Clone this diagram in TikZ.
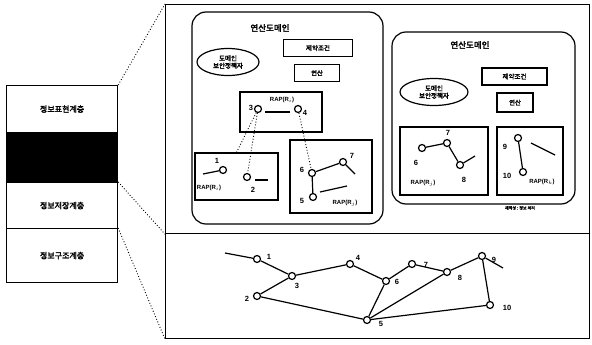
\documentclass[tikz,border=0pt]{standalone}
\usepackage{fontspec}
\usetikzlibrary{shapes.geometric}
\setmainfont{Liberation Sans}
\newfontfamily\cjk[FakeBold=2.5]{Noto Sans CJK KR}
\begin{document}
\begin{tikzpicture}[x=1pt,y=-1pt,
  frm/.style={draw,line width=1.2pt,inner sep=0pt},
  dom/.style={draw,line width=1.2pt,rounded corners=14pt,inner sep=0pt},
  kbox/.style={draw,line width=1.2pt,inner sep=0pt,font=\cjk\fontsize{6.5}{7}\selectfont},
  kr/.style={font=\cjk\fontsize{8}{8}\selectfont,inner sep=0pt},
  ttl/.style={font=\cjk\fontsize{8.5}{9}\selectfont,inner sep=0pt},
  ell/.style={draw,ellipse,line width=1.2pt,inner sep=0pt,align=center,font=\cjk\fontsize{6.5}{7.5}\selectfont},
  pt/.style={circle,draw,line width=1.2pt,fill=white,inner sep=0pt,minimum size=7pt},
  num/.style={font=\bfseries\fontsize{7.5}{7.5}\selectfont,inner sep=0pt},
  rap/.style={font=\bfseries\fontsize{6}{6}\selectfont,inner sep=0pt},
  ln/.style={line width=1.2pt},
  dots/.style={dotted,line width=0.9pt}]
\useasboundingbox (0,0) rectangle (592,345);
\fill[white] (0,0) rectangle (592,345);
% left stack
\node[frm,minimum width=111pt,minimum height=47pt,anchor=north west,kr] (L1) at (6,85) {정보표현계층};
\node[frm,fill=black,minimum width=111pt,minimum height=50pt,anchor=north west] (L2) at (6,132) {};
\node[frm,minimum width=111pt,minimum height=46pt,anchor=north west,kr] (L3) at (6,182) {정보저장계층};
\node[frm,minimum width=111pt,minimum height=54pt,anchor=north west,kr] (L4) at (6,228) {정보구조계층};
% frames
\node[frm,minimum width=424pt,minimum height=229pt,anchor=north west] (F) at (165,4) {};
\node[frm,minimum width=424pt,minimum height=105pt,anchor=north west] (G) at (165,233) {};
\draw[dots] (L1.north east) -- (F.north west);
\draw[dots] (L3.north east) -- (F.south west);
\draw[dots] (L4.north east) -- (G.south west);
% domain 1
\node[dom,minimum width=191pt,minimum height=212pt] (D1) at (287.5,118) {};
\node[ttl] (T1) at (270,28) {연산도메인};
\node[ell,minimum width=62pt,minimum height=27pt] (E1) at (228,62) {도메인\\보안정책자};
\node[kbox,minimum width=69pt,minimum height=17pt] (C1) at (318,48) {제약조건};
\node[kbox,minimum width=45pt,minimum height=17pt] (O1) at (317,73) {연산};
\node[frm,minimum width=82pt,minimum height=40pt] (B1) at (281,112) {};
\node[rap] (R1) at (282,100) {RAP(R$_i$)};
\node[pt] (u3) at (258,109) {};
\node[pt] (u4) at (298,109) {};
\node[num] (u3l) at (251,108) {3};
\node[num] (u4l) at (305,113) {4};
\coordinate (u3e) at (265,112);
\coordinate (u4w) at (290,112);
\draw[ln] (u3e) -- (u4w);
\node[frm,minimum width=83pt,minimum height=47pt] (B2) at (236.5,176.5) {};
\node[pt] (a1) at (223,170) {};
\node[num] (a1l) at (217,161) {1};
\coordinate (a1w) at (203,174);
\draw[ln] (a1w) -- (a1);
\node[pt] (a2) at (247,177) {};
\node[num] (a2l) at (253,190) {2};
\coordinate (a2a) at (255,180);
\coordinate (a2e) at (268,180);
\draw[ln] (a2a) -- (a2e);
\node[rap] (R2) at (209,188) {RAP(R$_i$)};
\node[frm,minimum width=82pt,minimum height=73pt] (B3) at (331,176.5) {};
\node[pt] (b6) at (312,173) {};
\node[pt] (b7) at (343,162) {};
\node[pt] (b5) at (313,197) {};
\node[num] (b6l) at (302,170) {6};
\node[num] (b7l) at (352,156) {7};
\node[num] (b5l) at (302,201) {5};
\draw[ln] (b6) -- (b7);
\draw[ln] (b6) -- (b5);
\coordinate (b7e) at (355,174);
\draw[ln] (b7) -- (b7e);
\coordinate (b5a) at (320,192);
\coordinate (b5b) at (347,186);
\draw[ln] (b5a) -- (b5b);
\node[rap] (R3) at (345,203) {RAP(R$_j$)};
\draw[dots] (u3) -- (B2.north);
\draw[dots] (u3) -- (a2);
\draw[dots] (u4) -- (b6);
% domain 2
\node[dom,minimum width=183pt,minimum height=172pt] (D2) at (483.5,118) {};
\node[ttl] (T2) at (470,45) {연산도메인};
\node[ell,minimum width=68pt,minimum height=27pt] (E2) at (434,92) {도메인\\보안정책자};
\node[kbox,minimum width=65pt,minimum height=17pt] (C2) at (514.5,76.5) {제약조건};
\node[kbox,minimum width=36pt,minimum height=19pt] (O2) at (515,102.5) {연산};
\node[frm,minimum width=88pt,minimum height=68pt] (B4) at (444,161) {};
\node[frm,minimum width=66pt,minimum height=68pt] (B5) at (530,161) {};
\node[pt] (c6) at (422,148) {};
\node[pt] (c7) at (447,143) {};
\node[pt] (c8) at (460,165) {};
\draw[ln] (c6) -- (c7) -- (c8);
\coordinate (c8e) at (475,156);
\draw[ln] (c8) -- (c8e);
\node[num] (c7l) at (448,133) {7};
\node[num] (c6l) at (416,163) {6};
\node[num] (c8l) at (464,180) {8};
\node[rap] (R4) at (423,183) {RAP(R$_j$)};
\node[pt] (d9) at (518,138) {};
\node[pt] (d10) at (523,172) {};
\draw[ln] (d9) -- (d10);
\coordinate (d9a) at (531,143);
\coordinate (d9b) at (555,155);
\draw[ln] (d9a) -- (d9b);
\node[num] (d9l) at (505,147) {9};
\node[num] (d10l) at (507,176) {10};
\node[rap] (R5) at (542,182) {RAP(R$_k$)};
\node[font=\cjk\fontsize{4}{4}\selectfont,inner sep=0pt] (S2) at (520,208) {재작성 : 정보 처리};
% bottom graph
\node[pt] (n1) at (257,259) {};
\node[pt] (n2) at (257,296) {};
\node[pt] (n3) at (292,276) {};
\node[pt] (n4) at (350,264) {};
\node[pt] (n5) at (367,320) {};
\node[pt] (n6) at (386,281) {};
\node[pt] (n7) at (412,264) {};
\node[pt] (n8) at (447,272) {};
\node[pt] (n9) at (482,256) {};
\node[pt] (n10) at (490,305) {};
\coordinate (s1) at (225,253);
\coordinate (s9) at (503,268);
\draw[ln] (s1) -- (n1);
\draw[ln] (n9) -- (s9);
\draw[ln] (n1) -- (n3) -- (n2);
\draw[ln] (n3) -- (n4) -- (n6) -- (n7) -- (n8) -- (n9) -- (n10);
\draw[ln] (n2) -- (n5);
\draw[ln] (n6) -- (n5);
\draw[ln] (n8) -- (n5);
\draw[ln] (n10) -- (n5);
\node[num] (n1l) at (269,257) {1};
\node[num] (n2l) at (247,299) {2};
\node[num] (n3l) at (297,286) {3};
\node[num] (n4l) at (358,258) {4};
\node[num] (n5l) at (381,324) {5};
\node[num] (n6l) at (397,282) {6};
\node[num] (n7l) at (426,265) {7};
\node[num] (n8l) at (460,278) {8};
\node[num] (n9l) at (494,260) {9};
\node[num] (n10l) at (507,308) {10};
\end{tikzpicture}
\end{document}
